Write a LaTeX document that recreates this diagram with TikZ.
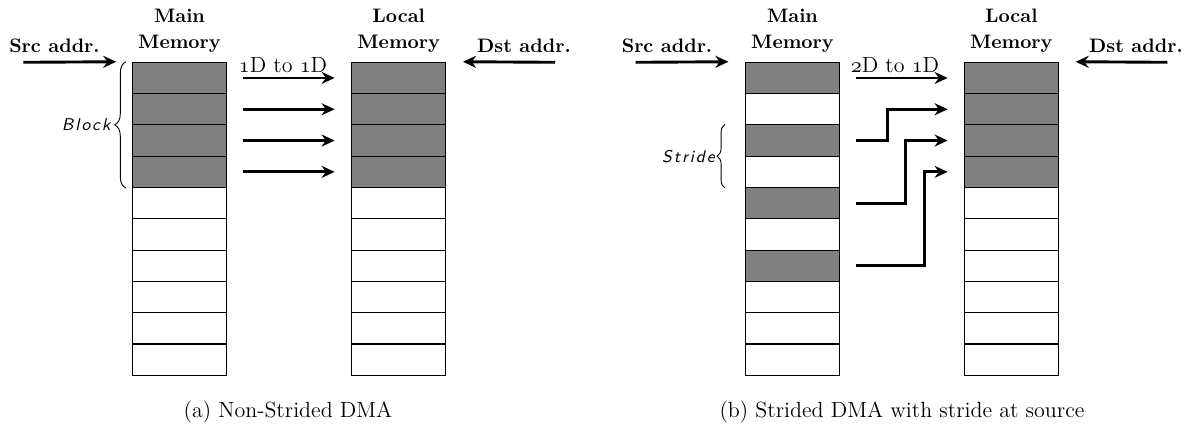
\documentclass[tikz,border=0pt]{standalone}
\usepackage{fontspec}
\usetikzlibrary{arrows.meta,decorations.pathreplacing,calc}
\newcommand\osnum[1]{{\usefont{OML}{lmm}{m}{it}#1}}
\newcommand\lk{\kern0.95pt\relax}
\tikzset{
  cell/.style={draw=black, line width=0.55pt, minimum width=47.15pt, minimum height=15.65pt, inner sep=0pt, fill=white},
  full/.style={cell, fill=gray},
  lbl/.style={font=\fontsize{9.75}{13}\selectfont\bfseries, inner sep=0pt, align=center},
  txt/.style={font=\fontsize{11}{13}\selectfont, inner sep=0pt},
  bracelbl/.style={font=\fontsize{8.5}{10}\selectfont\sffamily\itshape, inner sep=0pt, anchor=east},
  bigarrow/.style={line width=1.45pt, -{Stealth[length=6.5pt,width=6pt]}},
  bracestyle/.style={decorate, decoration={brace, amplitude=#1}, line width=0.45pt},
}
\begin{document}
\begin{tikzpicture}[x=0.5pt,y=-0.5pt]
\useasboundingbox (0,0) rectangle (1196,428);
% memory columns
\foreach \i in {1,...,10}{
  \pgfmathsetmacro\yy{62.3+31.3*(\i-0.5)}
  \ifnum\i<5 \def\st{full}\else\def\st{cell}\fi
  \node[\st] (ma\i) at (179.5,\yy) {};
  \node[\st] (la\i) at (398.7,\yy) {};
  \node[\st] (lb\i) at (1011.3,\yy) {};
  \def\sb{cell}
  \ifodd\i \ifnum\i<8 \def\sb{full}\fi\fi
  \node[\sb] (mb\i) at (792.5,\yy) {};
}
% ---------- panel (a)
\node[lbl, anchor=south] (mmA) at (179.5,52.7) {Main\\Memory};
\node[lbl, anchor=south] (lmA) at (398.7,52.7) {Local\\Memory};
\node[lbl, anchor=base] (srcA) at (54.5,53) {Src addr.};
\node[lbl, anchor=base] (dstA) at (524,53) {Dst addr.};
\coordinate (srcAs) at (23.3,62.3);
\coordinate (dstAs) at (555,62.3);
\draw[bigarrow] (srcAs) -- ($(ma1.north west)+(-15.6,0)$);
\draw[bigarrow] (dstAs) -- ($(la1.north east)+(16.6,0)$);
\node[txt, anchor=base] (tA) at (283,72) {\osnum{1}D to \osnum{1}D};
\foreach \i in {1,...,4}
  \draw[bigarrow] ($(ma\i.east)+(15.6,0)$) -- ($(la\i.west)+(-16.4,0)$);
\draw[bracestyle=5.5] ($(ma4.south west)+(-6,0)$) -- ($(ma1.north west)+(-6,0)$)
  node[midway, bracelbl, xshift=-7.5pt] (blk) {B\lk l\lk o\lk c\lk k};
\node[txt, anchor=base] (capA) at (288,417.3) {(a) Non-Strided DMA};
% ---------- panel (b)
\node[lbl, anchor=south] (mmB) at (792.5,52.7) {Main\\Memory};
\node[lbl, anchor=south] (lmB) at (1011.3,52.7) {Local\\Memory};
\node[lbl, anchor=base] (srcB) at (667,53) {Src addr.};
\node[lbl, anchor=base] (dstB) at (1136,53) {Dst addr.};
\coordinate (srcBs) at (635.7,62.3);
\coordinate (dstBs) at (1167.3,62.3);
\draw[bigarrow] (srcBs) -- ($(mb1.north west)+(-16.4,0)$);
\draw[bigarrow] (dstBs) -- ($(lb1.north east)+(16.7,0)$);
\node[txt, anchor=base] (tB) at (895,72) {\osnum{2}D to \osnum{1}D};
\draw[bigarrow] ($(mb1.east)+(15.6,0)$) -- ($(lb1.west)+(-16,0)$);
\draw[bigarrow] ($(mb3.east)+(15.6,0)$) -| ($(mb2.east)+(47.4,0)$) -- ($(lb2.west)+(-16,0)$);
\draw[bigarrow] ($(mb5.east)+(15.6,0)$) -| ($(mb3.east)+(65.7,0)$) -- ($(lb3.west)+(-16,0)$);
\draw[bigarrow] ($(mb7.east)+(15.6,0)$) -| ($(mb4.east)+(84,0)$) -- ($(lb4.west)+(-16,0)$);
\draw[bracestyle=4] ($(mb4.south west)+(-19.7,0)$) -- ($(mb3.north west)+(-19.7,0)$)
  node[midway, bracelbl, xshift=-5pt] (strd) {S\lk t\lk r\lk i\lk d\lk e};
\node[txt, anchor=base] (capB) at (902,417.3) {(b) Strided DMA with stride at source};
\end{tikzpicture}
\end{document}
